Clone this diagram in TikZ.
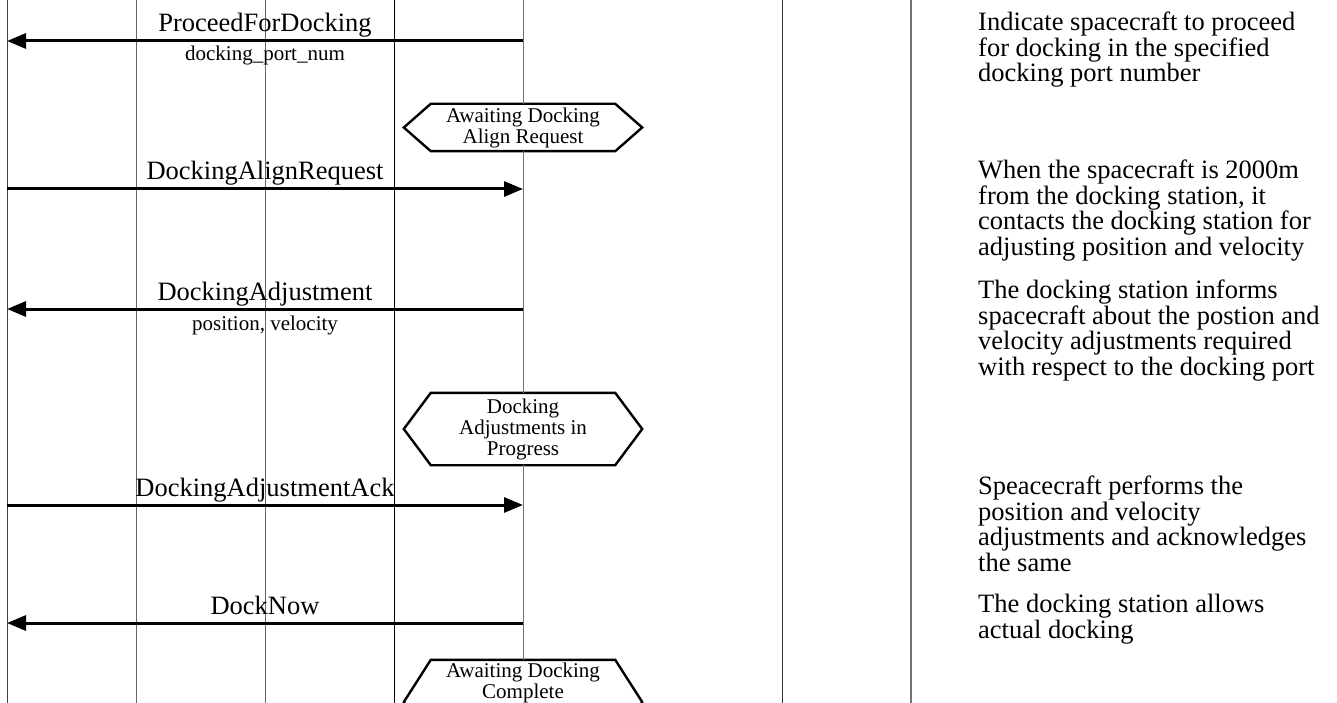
\documentclass[tikz,border=0pt]{standalone}
\usepackage{fontspec}
\setmainfont{Liberation Serif}
\usetikzlibrary{arrows.meta}

\newcommand{\hexframe}[1]{%
  \draw[hexline] ([xshift=-27pt]#1.west) -- (#1.north west) -- (#1.north east)
    -- ([xshift=27pt]#1.east) -- (#1.south east) -- (#1.south west) -- cycle;}

\begin{document}
\begin{tikzpicture}[x=1pt, y=-1pt,
    lifeline/.style={line width=1pt, draw=black!60},
    message/.style={line width=3pt, -{Triangle[length=19pt, width=15pt]}},
    msglabel/.style={inner sep=0pt, anchor=base, font=\fontsize{26.5}{27}\selectfont},
    msgparam/.style={inner sep=0pt, anchor=base, font=\fontsize{21}{21}\selectfont},
    statebox/.style={inner sep=0pt, align=center, minimum width=184pt, font=\fontsize{21}{21}\selectfont},
    hexline/.style={line width=2.4pt, line join=miter},
    comment/.style={inner sep=0pt, anchor=north west, align=left, font=\fontsize{26.5}{25.5}\selectfont}]
  \useasboundingbox (0,0) rectangle (1337,703);

  % lifelines
  \coordinate (atop) at (7,0);   \coordinate (abot) at (7,703);
  \coordinate (btop) at (136,0); \coordinate (bbot) at (136,703);
  \coordinate (ctop) at (265,0); \coordinate (cbot) at (265,703);
  \coordinate (dtop) at (394,0); \coordinate (dbot) at (394,703);
  \coordinate (etop) at (523,0);
  \coordinate (ftop) at (782,0); \coordinate (fbot) at (782,703);
  \coordinate (gtop) at (911,0); \coordinate (gbot) at (911,703);
  \draw[lifeline, draw=black!75] (atop) -- (abot);
  \draw[lifeline] (btop) -- (bbot);
  \draw[lifeline] (ctop) -- (cbot);
  \draw[lifeline, draw=black] (dtop) -- (dbot);
  \draw[lifeline, draw=black!80] (ftop) -- (fbot);
  \draw[lifeline, line width=2pt, draw=black!55] (gtop) -- (gbot);

  % states
  \node[statebox, minimum height=47pt] (s1) at (523,127.5) {Awaiting Docking\\Align Request};
  \node[statebox, minimum height=72pt] (s2) at (523,429) {Docking\\Adjustments in\\Progress};
  \node[statebox, minimum height=84pt, text depth=43pt] (s3) at (523,702) {Awaiting Docking\\Complete};
  \hexframe{s1}
  \hexframe{s2}
  \hexframe{s3}
  \draw[lifeline, draw=black!55] (etop) -- (s1.north);
  \draw[lifeline, draw=black!55] (s1.south) -- (s2.north);
  \draw[lifeline, draw=black!55] (s2.south) -- (s3.north);

  % messages
  \coordinate (a1) at (7,41);   \coordinate (e1) at (523,41);
  \coordinate (a2) at (7,189);  \coordinate (e2) at (523,189);
  \coordinate (a3) at (7,309);  \coordinate (e3) at (523,309);
  \coordinate (a4) at (7,505);  \coordinate (e4) at (523,505);
  \coordinate (a5) at (7,623);  \coordinate (e5) at (523,623);
  \draw[message] (e1) -- node[msglabel, yshift=9pt] (m1) {ProceedForDocking}
                         node[msgparam, yshift=-20pt] (p1) {docking\_port\_num} (a1);
  \draw[message] (a2) -- node[msglabel, yshift=9pt] (m2) {DockingAlignRequest} (e2);
  \draw[message] (e3) -- node[msglabel, yshift=9pt] (m3) {DockingAdjustment}
                         node[msgparam, yshift=-21pt] (p3) {position, velocity} (a3);
  \draw[message] (a4) -- node[msglabel, yshift=9pt] (m4) {DockingAdjustmentAck} (e4);
  \draw[message] (e5) -- node[msglabel, yshift=9pt] (m5) {DockNow} (a5);

  % notes
  \coordinate (notes) at (978,0);
  \node[comment] (n1) at (m1.north -| notes) {Indicate spacecraft to proceed\\for docking in the specified\\docking port number};
  \node[comment] (n2) at (m2.north -| notes) {When the spacecraft is 2000m\\from the docking station, it\\contacts the docking station for\\adjusting position and velocity};
  \node[comment] (n3) at (m3.north -| notes) {The docking station informs\\spacecraft about the postion and\\velocity adjustments required\\with respect to the docking port};
  \node[comment] (n4) at (m4.north -| notes) {Speacecraft performs the\\position and velocity\\adjustments and acknowledges\\the same};
  \node[comment] (n5) at (m5.north -| notes) {The docking station allows\\actual docking};
\end{tikzpicture}
\end{document}
